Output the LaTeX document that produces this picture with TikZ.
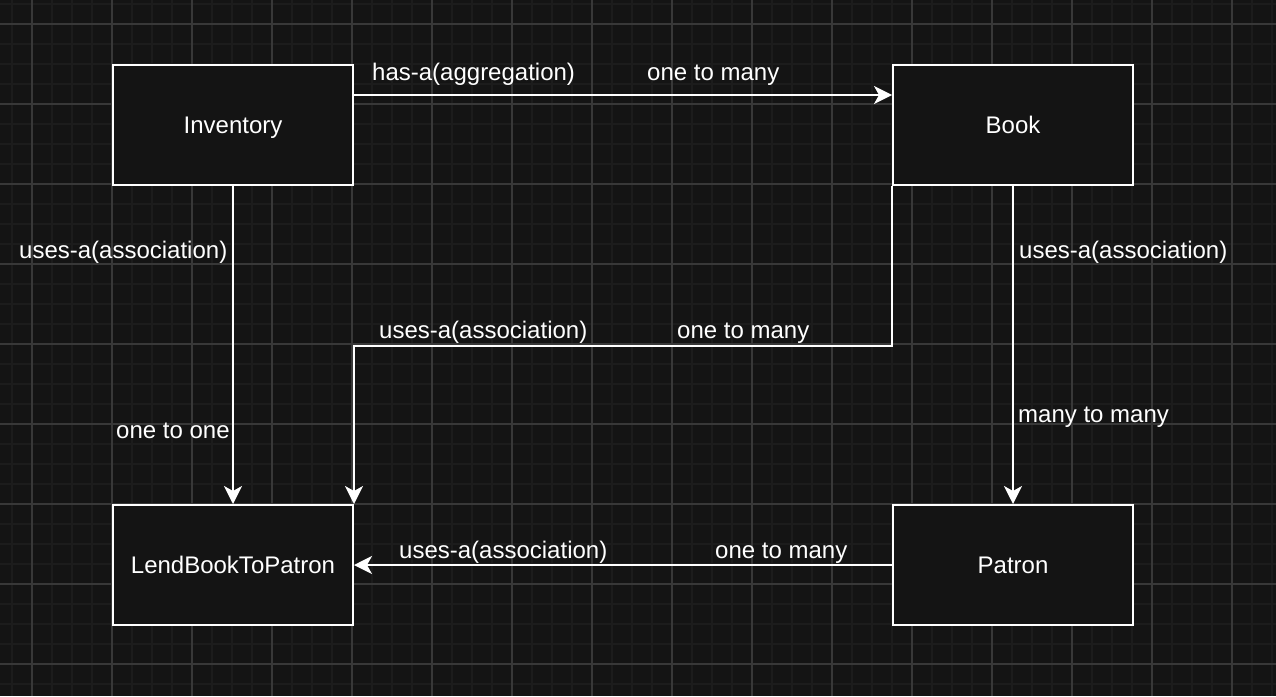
\documentclass[tikz,border=0pt]{standalone}
\usepackage{fontspec}
\setmainfont{Liberation Sans}
\usetikzlibrary{arrows.meta}
\definecolor{bg}{HTML}{141414}
\definecolor{minorgrid}{HTML}{1C1C1C}
\definecolor{majorgrid}{HTML}{383838}
\tikzset{
  box/.style={draw=white, line width=2pt, fill=bg, minimum width=240pt, minimum height=120pt, inner sep=0pt, text height=18pt, text depth=2pt, text=white, font=\fontsize{24}{28}\selectfont},
  lbl/.style={anchor=base west, inner sep=0pt, text=white, font=\fontsize{24}{28}\selectfont},
  conn/.style={draw=white, line width=2pt, -{Stealth[length=18pt,width=18pt,inset=5pt]}},
}
\begin{document}
\begin{tikzpicture}[x=1pt,y=-1pt]
\useasboundingbox (0,0) rectangle (1276,696);
\fill[bg] (0,0) rectangle (1276,696);
% minor grid
\foreach \gx in {12,32,...,1272} \draw[minorgrid, line width=2pt] (\gx,0) -- (\gx,696);
\foreach \gy in {4,24,...,694} \draw[minorgrid, line width=2pt] (0,\gy) -- (1276,\gy);
% major grid
\foreach \gx in {32,112,...,1272} \draw[majorgrid, line width=1.2pt] (\gx,0) -- (\gx,696);
\foreach \gy in {24,104,...,694} \draw[majorgrid, line width=1.2pt] (0,\gy) -- (1276,\gy);

\node[box] (inv) at (233,125) {Inventory};
\node[box] (book) at (1013,125) {Book};
\node[box] (lend) at (233,565) {LendBookToPatron};
\node[box] (patron) at (1013,565) {Patron};

\draw[conn] ([yshift=30pt]inv.east) -- ([yshift=30pt]book.west);
\draw[conn] (inv.south) -- (lend.north);
\draw[conn] (book.south west) -- ++(0,160) -| (lend.north east);
\draw[conn] (book.south) -- (patron.north);
\draw[conn] (patron.west) -- (lend.east);

\node[lbl] (l1) at (372,80) {has-a(aggregation)};
\node[lbl] (l2) at (647,80) {one to many};
\node[lbl] (l3) at (19,258) {uses-a(association)};
\node[lbl] (l4) at (116,438) {one to one};
\node[lbl] (l5) at (379,338) {uses-a(association)};
\node[lbl] (l6) at (677,338) {one to many};
\node[lbl] (l7) at (1019,258) {uses-a(association)};
\node[lbl] (l8) at (1018,422) {many to many};
\node[lbl] (l9) at (399,558) {uses-a(association)};
\node[lbl] (l10) at (715,558) {one to many};
\end{tikzpicture}
\end{document}
